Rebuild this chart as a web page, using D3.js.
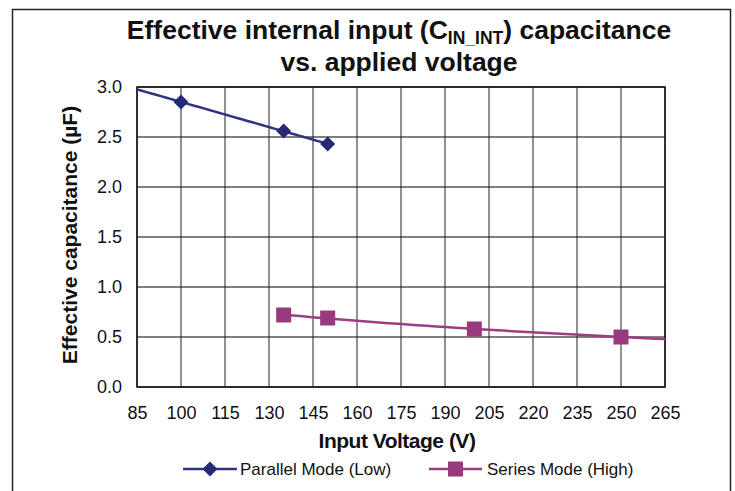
<!DOCTYPE html>
<html><head><meta charset="utf-8">
<script src="https://cdn.jsdelivr.net/npm/d3@7"></script>
<style>body{margin:0;background:#fff}svg{display:block}text{font-family:Arial,"Liberation Sans",Helvetica,sans-serif}</style>
</head><body><svg id="c" width="735" height="491"></svg>
<script>
const xTickValues = [85,100,115,130,145,160,175,190,205,220,235,250,265];
const yTickValues = [0,0.5,1.0,1.5,2.0,2.5,3.0];
const parallelVolts = [100,135,150];
const parallelCap = [2.85,2.56,2.43];
const seriesVolts = [135,150,200,250];
const seriesCap = [0.72,0.69,0.58,0.50];
const parallelTrendRange = [85,150];
const seriesTrendRange = [135,265];
const seriesNames = ["Parallel Mode (Low)","Series Mode (High)"];

const svg = d3.select("#c");
const m = {l:137, r:665, t:87, b:387};
const x = d3.scaleLinear().domain([85,265]).range([m.l,m.r]);
const y = d3.scaleLinear().domain([0,3]).range([m.b,m.t]);
const navy = "#262a74", navyLine = "#2e3288", plum = "#993a7e", plumLine = "#9c3d82";

// outer frame
svg.append("rect").attr("x",12.5).attr("y",9.5).attr("width",718).attr("height",500)
  .attr("fill","none").attr("stroke","#222").attr("stroke-width",1.5);

// title
const t1 = svg.append("text").attr("x",399).attr("y",39).attr("text-anchor","middle")
  .attr("font-size",26.5).attr("font-weight","bold").attr("fill","#111");
t1.append("tspan").text("Effective internal input (C");
t1.append("tspan").attr("font-size",17.5).attr("dy",5).text("IN_INT");
t1.append("tspan").attr("dy",-5).text(") capacitance");
svg.append("text").attr("x",399).attr("y",71).attr("text-anchor","middle")
  .attr("font-size",26.5).attr("font-weight","bold").attr("fill","#111").text("vs. applied voltage");

// grid
const g = svg.append("g");
g.selectAll(".hg").data(yTickValues).join("line")
  .attr("x1",m.l).attr("x2",m.r).attr("y1",d=>y(d)).attr("y2",d=>y(d))
  .attr("stroke","#555").attr("stroke-width",1.3);
g.selectAll(".vg").data(xTickValues).join("line")
  .attr("y1",m.t).attr("y2",m.b).attr("x1",d=>x(d)).attr("x2",d=>x(d))
  .attr("stroke","#222").attr("stroke-width",1);
g.append("rect").attr("x",m.l).attr("y",m.t).attr("width",m.r-m.l).attr("height",m.b-m.t)
  .attr("fill","none").attr("stroke","#111").attr("stroke-width",1.5);

// axes labels
const xa = svg.append("g").attr("transform",`translate(0,${m.b})`)
  .call(d3.axisBottom(x).tickValues(xTickValues).tickSize(0).tickPadding(19).tickFormat(d3.format("d")));
xa.select(".domain").remove();
xa.selectAll("text").attr("font-size",18).attr("fill","#111").attr("font-family","Arial, Liberation Sans, sans-serif");
const ya = svg.append("g").attr("transform",`translate(${m.l},0)`)
  .call(d3.axisLeft(y).tickValues(yTickValues).tickSize(0).tickPadding(15).tickFormat(d3.format(".1f")));
ya.select(".domain").remove();
ya.selectAll("text").attr("font-size",18).attr("fill","#111").attr("font-family","Arial, Liberation Sans, sans-serif");

svg.append("text").attr("x",397).attr("y",448).attr("text-anchor","middle")
  .attr("font-size",21).attr("font-weight","bold").attr("fill","#111").attr("letter-spacing",-0.5).text("Input Voltage (V)");
svg.append("text").attr("transform","translate(77,235) rotate(-90)").attr("text-anchor","middle")
  .attr("font-size",21).attr("font-weight","bold").attr("fill","#111").text("Effective capacitance (µF)");

// trendlines
function linFit(xs,ys){const mx=d3.mean(xs),my=d3.mean(ys);
  const b=d3.sum(xs,(v,i)=>(v-mx)*(ys[i]-my))/d3.sum(xs,v=>(v-mx)*(v-mx));return v=>my+b*(v-mx);}
function logFit(xs,ys){const lx=xs.map(Math.log);const f=linFit(lx,ys);return v=>f(Math.log(v));}
const pf = linFit(parallelVolts,parallelCap);
const sf = logFit(seriesVolts,seriesCap);
const line = d3.line().x(d=>x(d[0])).y(d=>y(d[1]));
const pts = (r,f)=>d3.range(0,41).map(i=>{const v=r[0]+(r[1]-r[0])*i/40;return [v,f(v)];});
svg.append("path").attr("d",line(pts(parallelTrendRange,pf))).attr("fill","none").attr("stroke",navyLine).attr("stroke-width",2.5);
svg.append("path").attr("d",line(pts(seriesTrendRange,sf))).attr("fill","none").attr("stroke",plumLine).attr("stroke-width",2.5);

// markers
const diamond = s=>`M0,${-s}L${s},0L0,${s}L${-s},0Z`;
svg.selectAll(".pm").data(parallelVolts).join("path")
  .attr("d",diamond(7.5)).attr("fill",navy)
  .attr("transform",(d,i)=>`translate(${x(d)},${y(parallelCap[i])})`);
svg.selectAll(".sm").data(seriesVolts).join("rect")
  .attr("x",d=>x(d)-7.5).attr("y",(d,i)=>y(seriesCap[i])-7.5).attr("width",15).attr("height",15).attr("fill",plum);

// legend
const lg = svg.append("g");
lg.append("line").attr("x1",183).attr("x2",237).attr("y1",469).attr("y2",469).attr("stroke",navyLine).attr("stroke-width",2.5);
lg.append("path").attr("d",diamond(7.5)).attr("fill",navy).attr("transform","translate(210,469)");
lg.append("text").attr("x",240).attr("y",475).attr("font-size",17).attr("fill","#111").text(seriesNames[0]);
lg.append("line").attr("x1",429).attr("x2",482).attr("y1",469).attr("y2",469).attr("stroke",plumLine).attr("stroke-width",2.5);
lg.append("rect").attr("x",448).attr("y",461.5).attr("width",15).attr("height",15).attr("fill",plum);
lg.append("text").attr("x",487).attr("y",475).attr("font-size",17).attr("fill","#111").text(seriesNames[1]);
</script></body></html>
